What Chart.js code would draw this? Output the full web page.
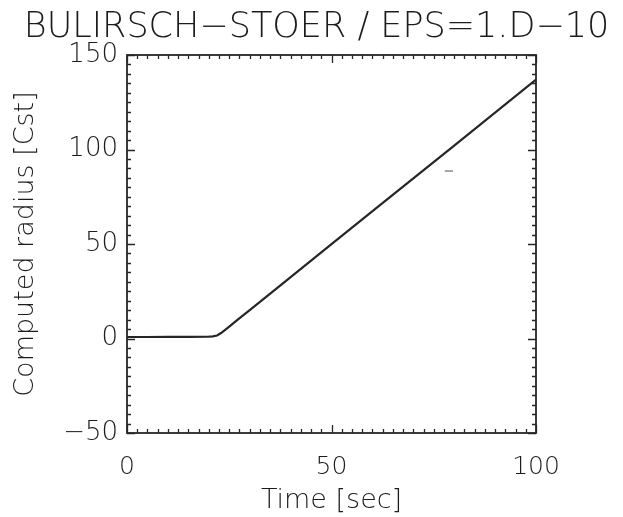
<!DOCTYPE html>
<html>
<head>
<meta charset="utf-8">
<script src="https://cdn.jsdelivr.net/npm/chart.js@4.4.1/dist/chart.umd.min.js"></script>
<style>
  html, body { margin: 0; padding: 0; background: #fff; }
  #wrap { width: 623px; height: 517px; }
</style>
</head>
<body>
<div id="wrap"><canvas id="c" width="623" height="517"></canvas></div>
<script>
// Integration result: computed radius versus time
const timeSec = [0, 5, 10, 15, 20, 21, 22, 23, 24, 25, 27, 30, 36, 50, 62, 80, 100];
const radiusCst = [0.8, 0.8, 0.9, 0.9, 1.0, 1.1, 1.6, 2.9, 4.6, 6.3, 9.8, 15, 25.5, 49.9, 70.8, 102, 137];

// Short stray stroke near the line
const strayTime = [77.7, 79.7];
const strayRadius = [88.6, 88.6];

// Axis ranges and labelled ticks
const xRange = [0, 100];
const yRange = [-50, 150];
const xMajorStep = 50, xMinorStep = 2.5;
const yMajorStep = 50, yMinorStep = 5;

const ink = '#262626';
const textInk = '#1c1c1c';
const fontFamily = '"DejaVu Sans", "Liberation Sans", sans-serif';
const fontWeight = 200;

const toXY = (xs, ys) => xs.map((x, i) => ({ x, y: ys[i] }));

// Frame with inward ticks on all four sides, placed through the chart scales
const frameTicks = {
  id: 'frameTicks',
  afterDatasetsDraw(chart) {
    const { ctx, chartArea: a, scales } = chart;
    const xs = scales.x, ys = scales.y;
    ctx.save();
    ctx.strokeStyle = ink;
    ctx.lineWidth = 1.8;
    ctx.strokeRect(a.left, a.top, a.right - a.left, a.bottom - a.top);
    ctx.lineWidth = 1.3;
    ctx.beginPath();
    const eps = 1e-9;
    for (let v = xRange[0]; v <= xRange[1] + eps; v += xMinorStep) {
      const major = Math.abs(v / xMajorStep - Math.round(v / xMajorStep)) < 1e-6;
      const len = major ? 8 : 4;
      const px = Math.round(xs.getPixelForValue(v)) + 0.5;
      ctx.moveTo(px, a.bottom); ctx.lineTo(px, a.bottom - len);
      ctx.moveTo(px, a.top); ctx.lineTo(px, a.top + len);
    }
    for (let v = yRange[0]; v <= yRange[1] + eps; v += yMinorStep) {
      const major = Math.abs(v / yMajorStep - Math.round(v / yMajorStep)) < 1e-6;
      const len = major ? 8 : 4;
      const py = Math.round(ys.getPixelForValue(v)) + 0.5;
      ctx.moveTo(a.left, py); ctx.lineTo(a.left + len, py);
      ctx.moveTo(a.right, py); ctx.lineTo(a.right - len, py);
    }
    ctx.stroke();
    ctx.restore();
  }
};

new Chart(document.getElementById('c'), {
  type: 'scatter',
  data: {
    datasets: [
      {
        data: toXY(timeSec, radiusCst),
        showLine: true,
        borderColor: ink,
        borderWidth: 2.2,
        pointRadius: 0,
        tension: 0
      },
      {
        data: toXY(strayTime, strayRadius),
        showLine: true,
        borderColor: '#8a8a8a',
        borderWidth: 1.5,
        pointRadius: 0,
        tension: 0
      }
    ]
  },
  options: {
    responsive: false,
    animation: false,
    events: [],
    layout: { padding: { left: 10, right: 0, top: 0, bottom: 0 } },
    plugins: {
      legend: { display: false },
      tooltip: { enabled: false },
      title: {
        display: true,
        text: 'BULIRSCH\u2212STOER / EPS=1.D\u221210',
        color: textInk,
        font: { family: fontFamily, size: 35, weight: fontWeight, lineHeight: 1 },
        padding: { top: 10, bottom: 10 }
      }
    },
    scales: {
      x: {
        type: 'linear',
        min: xRange[0], max: xRange[1],
        grid: { display: false, drawTicks: false },
        border: { display: false },
        ticks: {
          stepSize: xMajorStep,
          color: textInk,
          padding: 19,
          maxRotation: 0,
          font: { family: fontFamily, size: 25, weight: fontWeight }
        },
        title: {
          display: true,
          text: 'Time [sec]',
          color: textInk,
          font: { family: fontFamily, size: 27, weight: fontWeight },
          padding: { top: 0, bottom: 0 }
        },
        afterFit(s) { s.height = 84; }
      },
      y: {
        type: 'linear',
        min: yRange[0], max: yRange[1],
        grid: { display: false, drawTicks: false },
        border: { display: false },
        ticks: {
          stepSize: yMajorStep,
          color: textInk,
          padding: 9,
          font: { family: fontFamily, size: 26, weight: fontWeight },
          callback: (v) => (v < 0 ? '\u2212' + Math.abs(v) : String(v))
        },
        title: {
          display: true,
          text: 'Computed radius [Cst]',
          color: textInk,
          font: { family: fontFamily, size: 27, weight: fontWeight },
          padding: { top: 0, bottom: 0 }
        },
        afterFit(s) { s.width = 117; }
      },
      yRight: {
        type: 'linear',
        position: 'right',
        min: yRange[0], max: yRange[1],
        grid: { display: false, drawTicks: false },
        border: { display: false },
        ticks: { display: false },
        afterFit(s) { s.width = 87; }
      }
    }
  },
  plugins: [frameTicks]
});
</script>
</body>
</html>
